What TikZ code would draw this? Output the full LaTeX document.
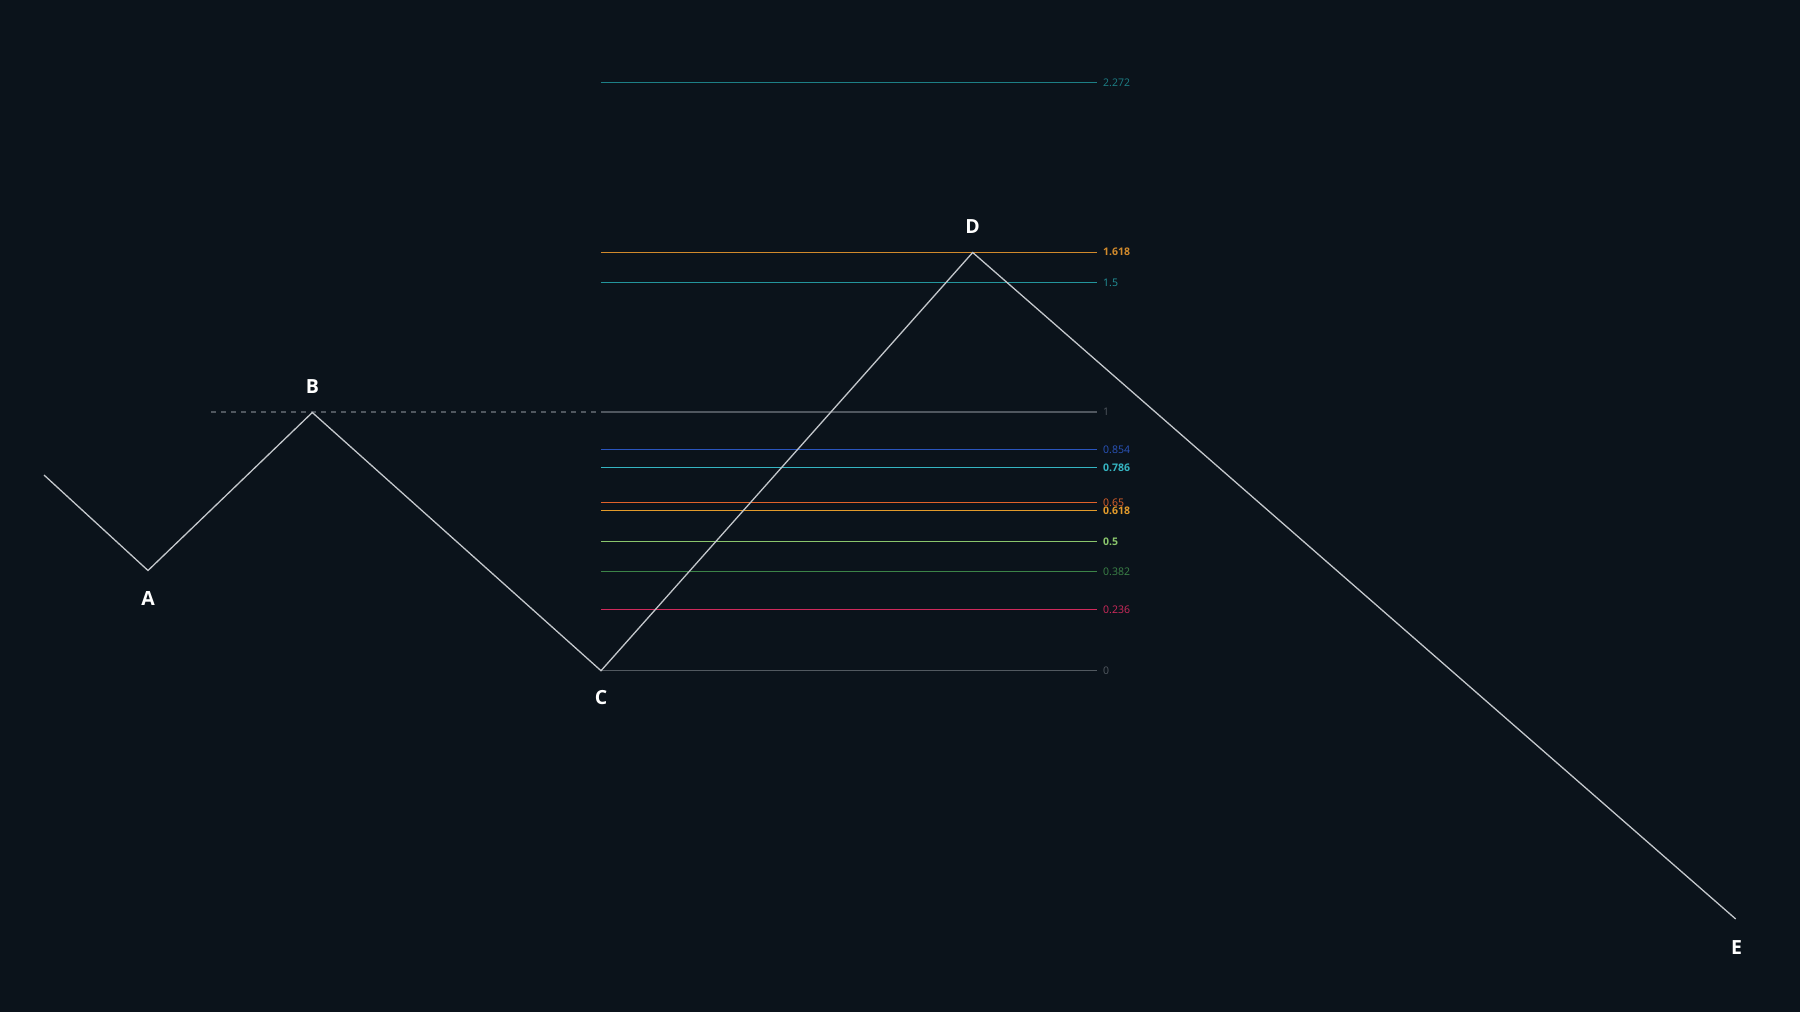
\documentclass[tikz,border=0pt]{standalone}
\usepackage{fontspec}
\setmainfont{Open Sans}
\begin{document}
\begin{tikzpicture}[x=1pt,y=-1pt,
  bg/.style={fill=bgc,draw=none},
  wave/.style={draw=wavec,line width=1.3pt,line join=miter},
  lvl/.style={line width=1.1pt,color=#1},
  lvllab/.style={anchor=west,inner sep=0pt,text=#1,font=\fontsize{10.5}{11}\selectfont},
  lvlbold/.style={anchor=west,inner sep=0pt,text=#1,font=\bfseries\fontsize{10.5}{11}\selectfont},
  pt/.style={inner sep=0pt,minimum size=0pt},
  ptlab/.style={text=white,font=\bfseries\fontsize{19.5}{20}\selectfont,inner sep=0pt}]
\definecolor{bgc}{HTML}{0B131B}
\definecolor{wavec}{HTML}{C4C8CC}
\definecolor{cA}{HTML}{1D7F86}
\definecolor{cB}{HTML}{D18A2C}
\definecolor{cC}{HTML}{23959C}
\definecolor{cD}{HTML}{50575F}
\definecolor{cE}{HTML}{2A55BE}
\definecolor{cF}{HTML}{35B5C2}
\definecolor{cG}{HTML}{E0622A}
\definecolor{cH}{HTML}{E39B2B}
\definecolor{cI}{HTML}{8AC66C}
\definecolor{cJ}{HTML}{3C8448}
\definecolor{cK}{HTML}{D02A5C}
\definecolor{cL}{HTML}{525960}
\fill[bg] (0,0) rectangle (1800,1012);
\useasboundingbox (0,0) rectangle (1800,1012);
% wave points
\coordinate (S) at (44,475);
\node[pt] (A) at (148,570.5) {};
\node[pt] (B) at (312.3,412.5) {};
\node[pt] (C) at (601,670.7) {};
\node[pt] (D) at (972.7,252.5) {};
\node[pt] (E) at (1735.7,919) {};
% dashed B level
\coordinate (BL) at (211,412);
\coordinate (BR) at (601,412);
\draw[cD,line width=1.1pt,dash pattern=on 5pt off 5pt] (BL) -- (BR);
% fib levels: y = 670.7 - 258.7*v
\draw[lvl=cA] (601,82.9) coordinate (la) -- (1096.7,82.9) coordinate (ra);
\node[lvllab=cA] (ta) at (1103,82.9) {2.272};
\draw[lvl=cB] (601,252.1) coordinate (lb) -- (1096.7,252.1) coordinate (rb);
\node[lvlbold=cB] (tb) at (1103,252.1) {1.618};
\draw[lvl=cC] (601,282.65) coordinate (lc) -- (1096.7,282.65) coordinate (rc);
\node[lvllab=cC] (tc) at (1103,282.65) {1.5};
\draw[lvl=cD] (601,412) coordinate (ld) -- (1096.7,412) coordinate (rd);
\node[lvllab=cD] (td) at (1103,412) {1};
\draw[lvl=cE] (601,449.8) coordinate (le) -- (1096.7,449.8) coordinate (re);
\node[lvllab=cE] (te) at (1103,449.8) {0.854};
\draw[lvl=cF] (601,467.4) coordinate (lf) -- (1096.7,467.4) coordinate (rf);
\node[lvlbold=cF] (tf) at (1103,467.4) {0.786};
\draw[lvl=cG] (601,502.5) coordinate (lg) -- (1096.7,502.5) coordinate (rg);
\node[lvllab=cG] (tg) at (1103,502.5) {0.65};
\draw[lvl=cH] (601,510.8) coordinate (lh) -- (1096.7,510.8) coordinate (rh);
\node[lvlbold=cH] (th) at (1103,510.8) {0.618};
\draw[lvl=cI] (601,541.35) coordinate (li) -- (1096.7,541.35) coordinate (ri);
\node[lvlbold=cI] (ti) at (1103,541.35) {0.5};
\draw[lvl=cJ] (601,571.9) coordinate (lj) -- (1096.7,571.9) coordinate (rj);
\node[lvllab=cJ] (tj) at (1103,571.9) {0.382};
\draw[lvl=cK] (601,609.6) coordinate (lk) -- (1096.7,609.6) coordinate (rk);
\node[lvllab=cK] (tk) at (1103,609.6) {0.236};
\draw[lvl=cL] (601,670.7) coordinate (ll) -- (1096.7,670.7) coordinate (rl);
\node[lvllab=cL] (tl) at (1103,670.7) {0};
\draw[wave] (S) -- (A.center) -- (B.center) -- (C.center) -- (D.center) -- (E.center);
\node[ptlab] (lA) at (148,599) {A};
\node[ptlab] (lB) at (312.5,387) {B};
\node[ptlab] (lC) at (601,698) {C};
\node[ptlab] (lD) at (972.5,227) {D};
\node[ptlab] (lE) at (1736.5,948) {E};
\end{tikzpicture}
\end{document}
